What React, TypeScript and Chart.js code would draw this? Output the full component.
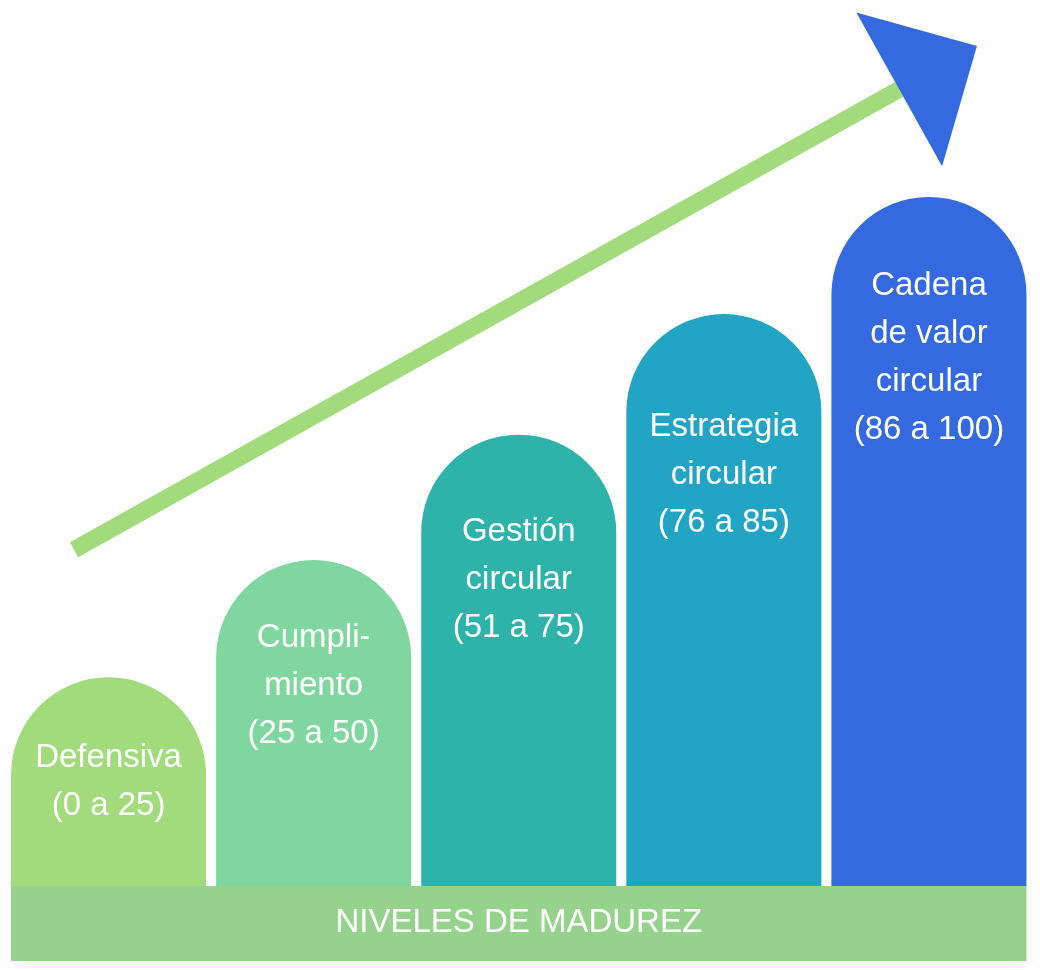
import React, { useEffect, useRef } from 'react';
import { Chart, registerables } from 'chart.js';

Chart.register(...registerables);

// maturity levels, one bar each
const levels = ['Defensiva', 'Cumplimiento', 'Gestión circular', 'Estrategia circular', 'Cadena de valor circular'];
const levelLines = [
  ['Defensiva', '(0 a 25)'],
  ['Cumpli-', 'miento', '(25 a 50)'],
  ['Gestión', 'circular', '(51 a 75)'],
  ['Estrategia', 'circular', '(76 a 85)'],
  ['Cadena', 'de valor', 'circular', '(86 a 100)'],
];
// bar heights (relative, tallest = 100)
const levelHeights = [30.3, 47.3, 65.5, 83.0, 100];
// growth arrow, start and end on the hidden linear x axis
const arrowX = [6.63, 87.1];
const arrowY = [48.8, 115.6];
const baseTitle = 'NIVELES DE MADUREZ';

const barColors = ['#a2db7b', '#80d69f', '#2db3a9', '#22a5c4', '#3469df'];
const baseColor = '#95d38c';
const arrowColor = '#a2db7b';
const headColor = '#3469df';
const FONT = '33px "Liberation Sans", Arial, sans-serif';
const textOffsets = [90, 87, 106, 122, 98]; // first baseline below bar top
const LINE_H = 48;

const decorPlugin = {
  id: 'decor',
  beforeDatasetsDraw(chart: Chart) {
    // base band under the bars
    const bars = chart.getDatasetMeta(0).data as any[];
    if (!bars.length) return;
    const first = bars[0];
    const last = bars[bars.length - 1];
    const left = first.x - first.width / 2;
    const right = last.x + last.width / 2;
    const top = chart.chartArea.bottom;
    const ctx = chart.ctx;
    ctx.save();
    ctx.fillStyle = baseColor;
    ctx.fillRect(left, top, right - left, 75);
    ctx.fillStyle = '#ffffff';
    ctx.font = FONT;
    ctx.textAlign = 'center';
    ctx.textBaseline = 'alphabetic';
    ctx.fillText(baseTitle, (left + right) / 2, top + 46);
    ctx.restore();
  },
  afterDatasetsDraw(chart: Chart) {
    const ctx = chart.ctx;
    const bars = chart.getDatasetMeta(0).data as any[];
    ctx.save();
    ctx.fillStyle = '#ffffff';
    ctx.font = FONT;
    ctx.textAlign = 'center';
    ctx.textBaseline = 'alphabetic';
    bars.forEach((bar, i) => {
      levelLines[i].forEach((line, j) => {
        ctx.fillText(line, bar.x, bar.y + textOffsets[i] + j * LINE_H);
      });
    });

    // arrow head at the end of the line
    const pts = chart.getDatasetMeta(1).data as any[];
    if (pts.length >= 2) {
      const a = pts[0];
      const b = pts[pts.length - 1];
      const ang = Math.atan2(b.y - a.y, b.x - a.x);
      const halfW = 88;
      const len = 89;
      const cos = Math.cos(ang);
      const sin = Math.sin(ang);
      ctx.fillStyle = headColor;
      ctx.beginPath();
      ctx.moveTo(b.x - sin * halfW, b.y + cos * halfW);
      ctx.lineTo(b.x + cos * len, b.y + sin * len);
      ctx.lineTo(b.x + sin * halfW, b.y - cos * halfW);
      ctx.closePath();
      ctx.fill();
    }
    ctx.restore();
  },
};

const App: React.FC = () => {
  const canvasRef = useRef<HTMLCanvasElement | null>(null);

  useEffect(() => {
    if (!canvasRef.current) return;
    document.body.style.margin = '0';
    const chart = new Chart(canvasRef.current, {
      type: 'bar',
      data: {
        labels: levels,
        datasets: [
          {
            type: 'bar',
            data: levelHeights,
            backgroundColor: barColors,
            borderWidth: 0,
            borderRadius: { topLeft: 200, topRight: 200, bottomLeft: 0, bottomRight: 0 },
            borderSkipped: 'bottom',
            barPercentage: 0.951,
            categoryPercentage: 1,
            grouped: false,
          },
          {
            type: 'line',
            xAxisID: 'xl',
            data: arrowX.map((x, i) => ({ x, y: arrowY[i] })),
            borderColor: arrowColor,
            borderWidth: 17,
            borderCapStyle: 'butt',
            pointRadius: 0,
            fill: false,
          } as any,
        ],
      },
      options: {
        animation: false,
        responsive: true,
        maintainAspectRatio: false,
        layout: { padding: { left: 6, right: 8.5, top: 4, bottom: 84 } },
        scales: {
          x: { display: false, grid: { display: false } },
          xl: { type: 'linear', display: false, min: 0, max: 100, offset: false },
          y: { display: false, min: 0, max: 128 },
        },
        plugins: {
          legend: { display: false },
          tooltip: { enabled: false },
        },
      },
      plugins: [decorPlugin],
    });
    return () => chart.destroy();
  }, []);

  return (
    <div style={{ position: 'absolute', left: 0, top: 0, width: 1040, height: 970, background: '#ffffff' }}>
      <canvas ref={canvasRef}></canvas>
    </div>
  );
};

export default App;
